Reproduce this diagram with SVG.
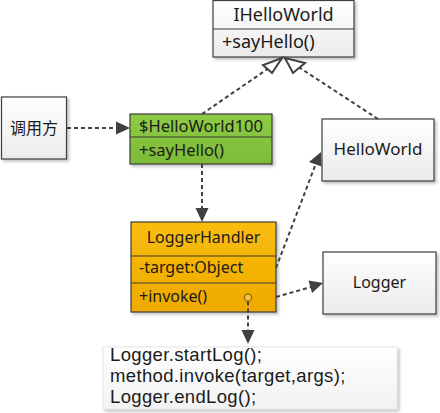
<svg xmlns="http://www.w3.org/2000/svg" width="440" height="413" viewBox="0 0 440 413">
<style>
text{font-family:"Noto Sans","Open Sans","Noto Sans CJK SC",sans-serif;fill:#1a1a1a}
.c{text-anchor:middle}
.f16{font-size:16px}
.f165{font-size:16.5px}
.f17{font-size:17px}
.f18{font-size:18px}
.code{font-family:"Liberation Sans","Noto Sans",sans-serif;font-size:18.5px;letter-spacing:0.35px}
.cjk{font-family:"Noto Sans CJK SC",sans-serif}
.box{stroke:#3c3c3c;stroke-width:1.2}
.con{fill:none;stroke:#404040;stroke-width:2;stroke-dasharray:4 3}
.hd{fill:#404040}
.tri{fill:#fff;stroke:#404040;stroke-width:2}
</style>
<defs>
<linearGradient id="gw" x1="0" y1="0" x2="0" y2="1"><stop offset="0" stop-color="#ffffff"/><stop offset="1" stop-color="#ebebeb"/></linearGradient>
<linearGradient id="gg" x1="0" y1="0" x2="0" y2="1"><stop offset="0" stop-color="#8fcb45"/><stop offset="1" stop-color="#7cbb36"/></linearGradient>
<linearGradient id="go" x1="0" y1="0" x2="0" y2="1"><stop offset="0" stop-color="#f9bd0a"/><stop offset="1" stop-color="#efa900"/></linearGradient>
<linearGradient id="gn" x1="0" y1="0" x2="0" y2="1"><stop offset="0" stop-color="#ffffff"/><stop offset="1" stop-color="#f2f2f2"/></linearGradient>
<filter id="sh" x="-10%" y="-10%" width="130%" height="130%"><feDropShadow dx="2" dy="2" stdDeviation="1.5" flood-color="#000" flood-opacity="0.25"/></filter>
</defs>

<g id="IHelloWorld">
  <rect class="box" x="213" y="0.5" width="141" height="56.5" fill="url(#gw)" filter="url(#sh)"/>
  <line class="box" x1="213" y1="29" x2="354" y2="29"/>
  <text class="c f18" x="283.5" y="21">IHelloWorld</text>
  <text class="f18" x="222" y="48">+sayHello()</text>
</g>

<g id="caller">
  <rect class="box" x="1.5" y="97" width="65" height="62" fill="url(#gw)" filter="url(#sh)"/>
  <text class="c f16 cjk" x="34" y="134">调用方</text>
</g>

<g id="HelloWorld100">
  <rect class="box" x="130" y="114" width="142" height="50" fill="url(#gg)" filter="url(#sh)"/>
  <line class="box" x1="130" y1="137" x2="272" y2="137"/>
  <text class="f165" x="139" y="132">$HelloWorld100</text>
  <text class="f165" x="139" y="156">+sayHello()</text>
</g>

<g id="HelloWorld">
  <rect class="box" x="322" y="119" width="112" height="62" fill="url(#gw)" filter="url(#sh)"/>
  <text class="c f17" x="378" y="155">HelloWorld</text>
</g>

<g id="LoggerHandler">
  <rect class="box" x="131" y="222" width="145" height="90" fill="url(#go)" filter="url(#sh)"/>
  <line class="box" x1="131" y1="256" x2="276" y2="256"/>
  <line class="box" x1="131" y1="283" x2="276" y2="283"/>
  <text class="c f16" x="203.5" y="243">LoggerHandler</text>
  <text class="f16" x="139" y="273">-target:Object</text>
  <text class="f16" x="139" y="302">+invoke()</text>
</g>

<g id="Logger">
  <rect class="box" x="323" y="252" width="113" height="62" fill="url(#gw)" filter="url(#sh)"/>
  <text class="c f16" x="379.5" y="288">Logger</text>
</g>

<g id="note">
  <rect x="103" y="347" width="294" height="62" fill="url(#gn)" stroke="#e6e6e6" stroke-width="1" filter="url(#sh)"/>
  <text class="code" x="110" y="360.5">Logger.startLog();</text>
  <text class="code" x="110" y="381.5">method.invoke(target,args);</text>
  <text class="code" x="110" y="402.5">Logger.endLog();</text>
</g>

<g id="connectors">
  <line class="con" x1="67" y1="128" x2="118" y2="128"/>
  <path class="hd" d="M130,128 L116,121.5 L116,134.5 z"/>
  <line class="con" x1="202" y1="114" x2="269" y2="68"/>
  <path class="tri" d="M282,58 L263,65 L272,73 z"/>
  <line class="con" x1="378" y1="119" x2="297" y2="66"/>
  <path class="tri" d="M285,58 L293,73 L305,63 z"/>
  <line class="con" x1="202" y1="164" x2="202" y2="209"/>
  <path class="hd" d="M202,222 L195.5,208 L208.5,208 z"/>
  <line class="con" x1="276" y1="268" x2="315" y2="166"/>
  <path class="hd" d="M321,152 L309,162 L321.5,166.5 z"/>
  <line class="con" x1="276" y1="297" x2="311" y2="287"/>
  <path class="hd" d="M323,283 L308.5,280.5 L312,293 z"/>
  <line class="con" x1="248" y1="301.5" x2="248" y2="331"/>
  <path class="hd" d="M248,344 L241.5,330 L254.5,330 z"/>
  <circle cx="248" cy="297.5" r="3.6" fill="#f5c040" stroke="#8a6a10" stroke-width="1.2"/>
</g>
</svg>
